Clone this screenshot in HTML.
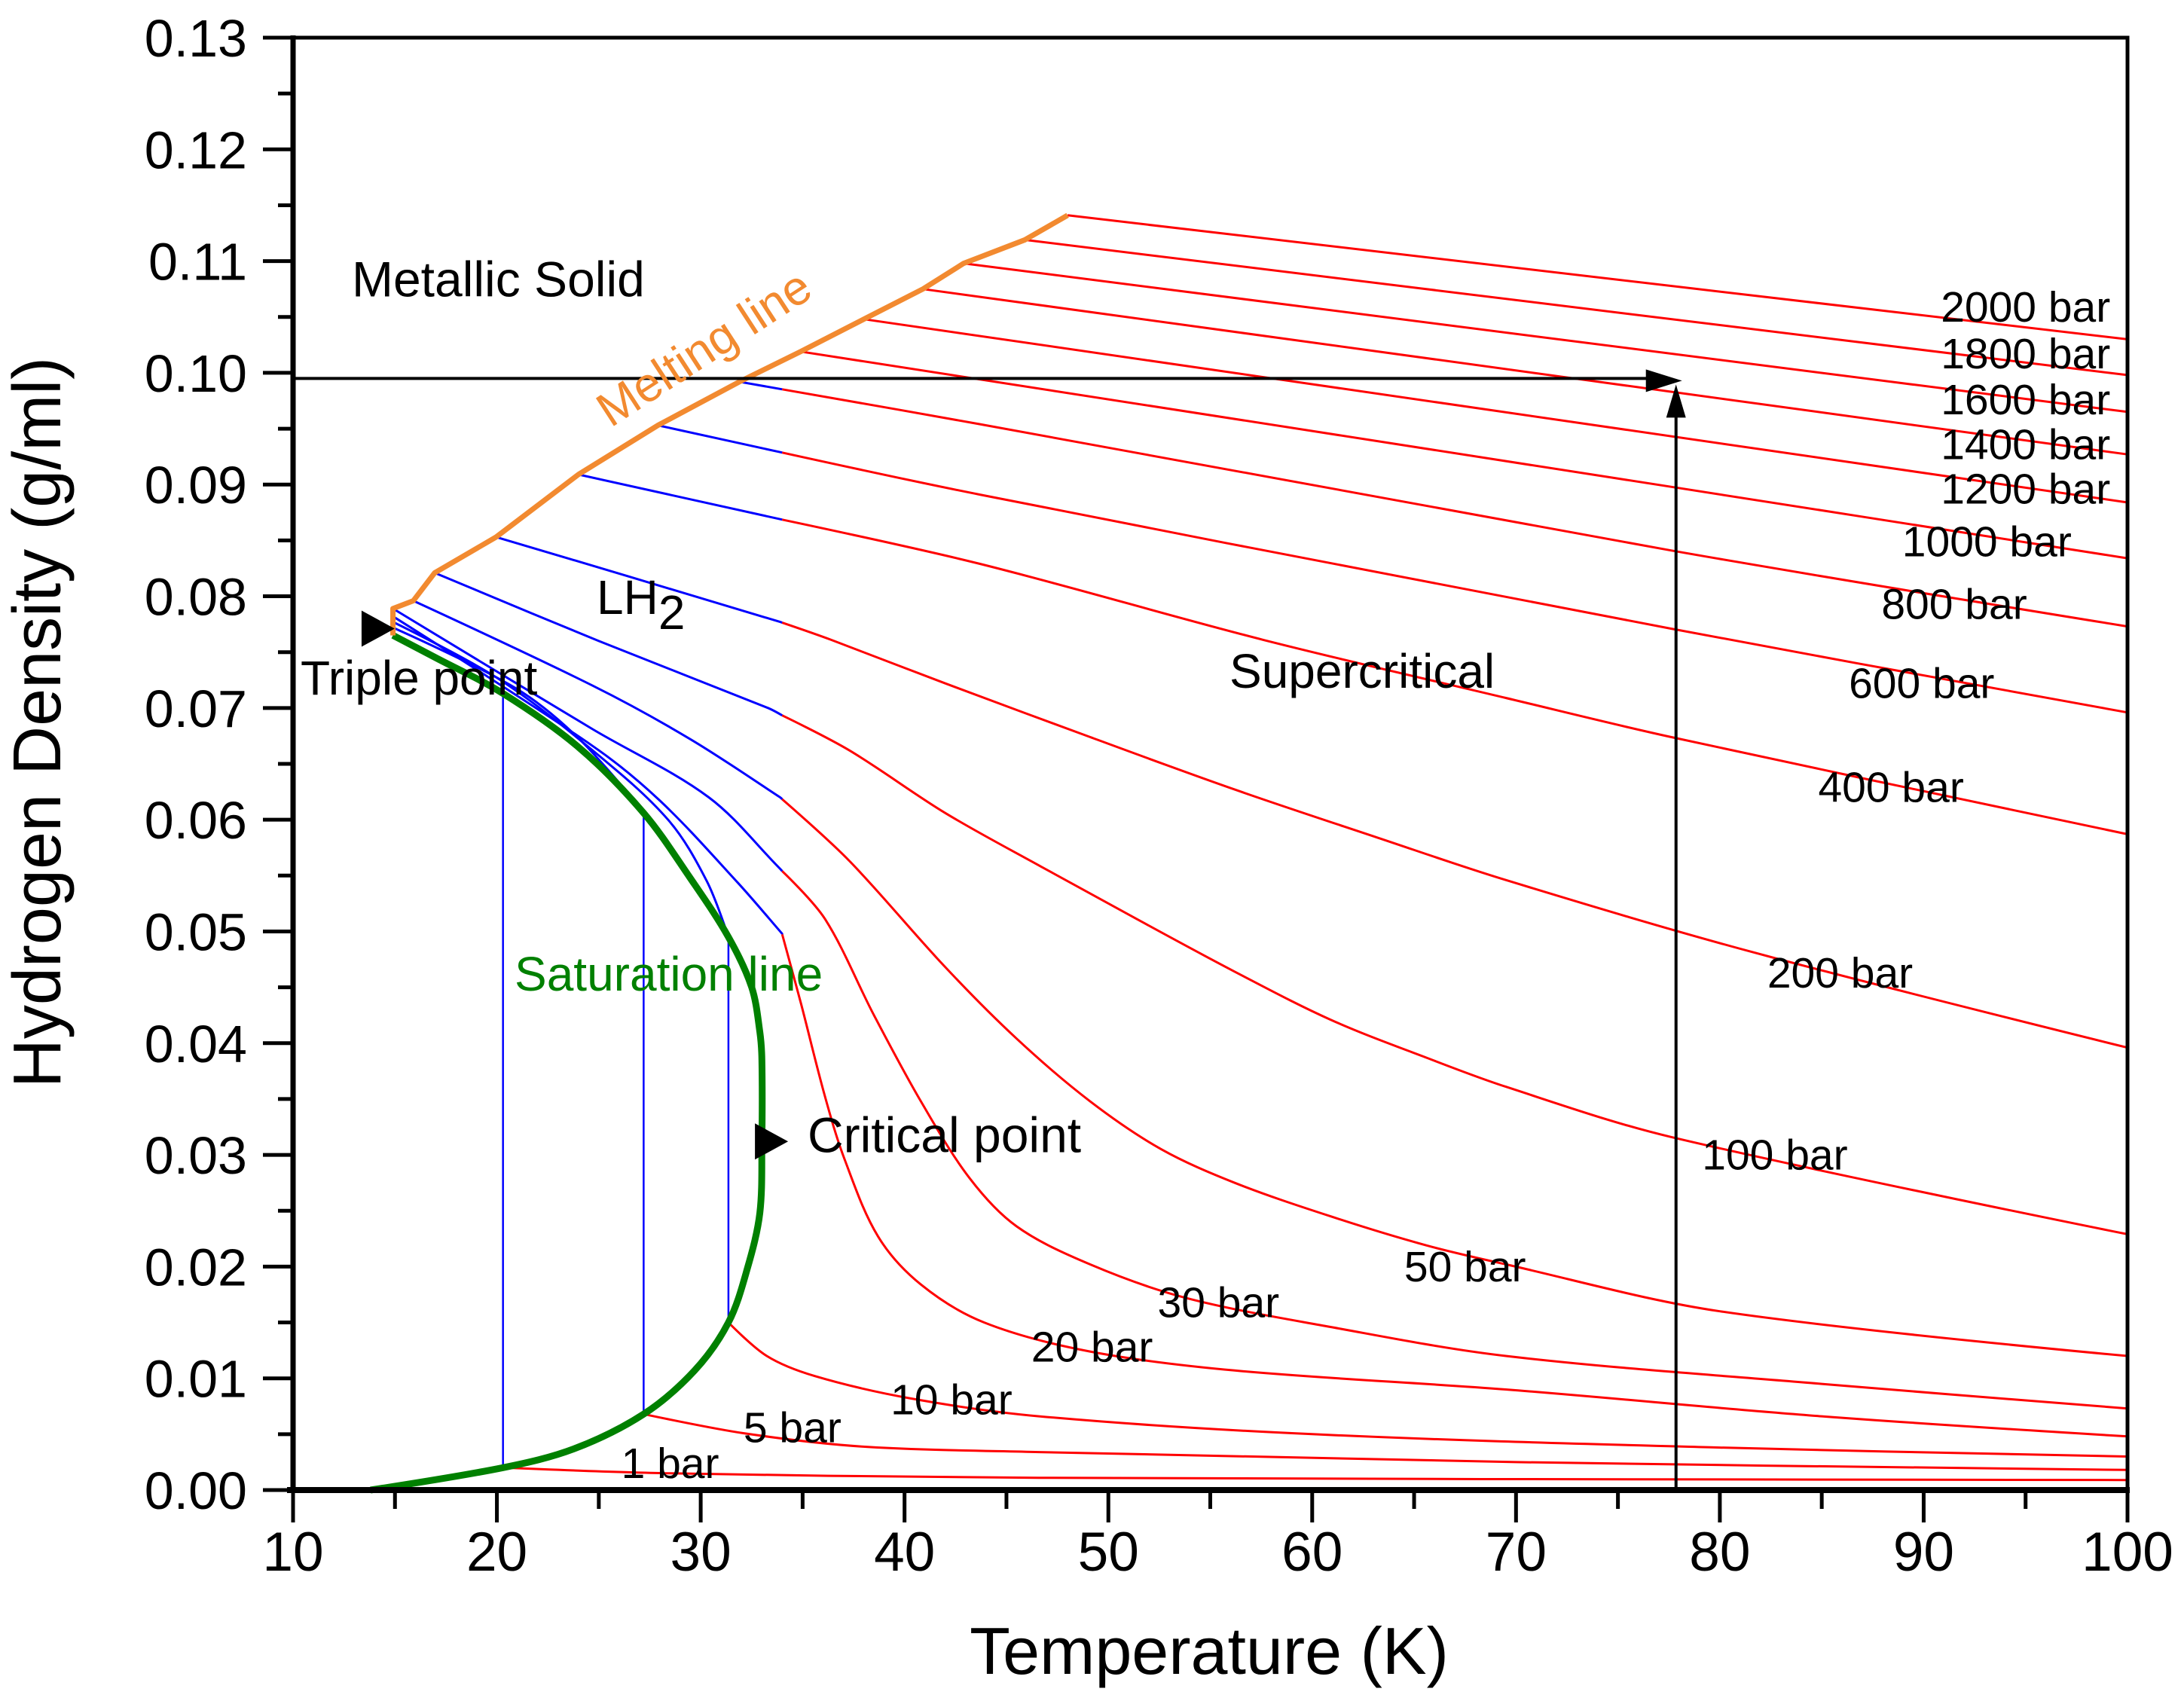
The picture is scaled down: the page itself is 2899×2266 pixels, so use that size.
<!DOCTYPE html>
<html><head><meta charset="utf-8">
<style>
html,body{margin:0;padding:0;background:#fff;}
svg{display:block;font-family:"Liberation Sans",Arial,sans-serif;}
</style></head>
<body>
<svg id="chart" width="2899" height="2266" viewBox="0 0 2899 2266" xmlns="http://www.w3.org/2000/svg">
<rect x="0" y="0" width="2899" height="2266" fill="#fff"/>
<g id="plot"></g>
<g id="axes"></g>
<g id="labels"></g>
</svg>
<script>
// ---- data ----
const xTicks = [10,20,30,40,50,60,70,80,90,100];
const yTicks = [0,0.01,0.02,0.03,0.04,0.05,0.06,0.07,0.08,0.09,0.10,0.11,0.12,0.13];
const yTickLabels = ["0.00","0.01","0.02","0.03","0.04","0.05","0.06","0.07","0.08","0.09","0.10","0.11","0.12","0.13"];

const saturationT   = [13.8,20.3,23.8,27.2,29.7,31.36,32.3,32.9,33.0,33.0,32.9,32.5,31.36,29.44,27.2,24.0,20.3,17.0,14.9];
const saturationRho = [0.0,0.0020,0.0037,0.0068,0.0107,0.0150,0.0199,0.0248,0.0310,0.0385,0.0410,0.0450,0.0495,0.0549,0.0606,0.0665,0.0713,0.0745,0.0765];

const meltingT   = [14.9,14.9,15.9,16.95,19.96,24.0,27.9,31.9,34.9,38.0,40.9,42.9,45.9,48.0];
const meltingRho = [0.0765,0.0789,0.0796,0.0821,0.0853,0.0909,0.0953,0.0992,0.1019,0.1048,0.1075,0.1098,0.1119,0.1141];

const pressures = ["2000","1800","1600","1400","1200","1000","800","600","400","200","100","50","30","20"];
const isoT = {
  "2000":[48.0,100],
  "1800":[45.9,100],
  "1600":[42.9,100],
  "1400":[40.9,100],
  "1200":[38.0,100],
  "1000":[34.9,77.6,100],
  "800":[31.9,43.7,77.6,100],
  "600":[27.9,33.9,43.7,77.6,100],
  "400":[24.0,33.9,43.7,57.6,69.5,77.6,100],
  "200":[19.96,26.6,33.9,36.4,42.0,49.1,56.2,63.2,69.5,81.7,100],
  "100":[16.95,25.0,33.3,37.3,42.0,46.7,51.4,56.2,60.9,65.6,69.5,77.6,100],
  "50":[15.9,24.7,29.5,33.9,37.3,42.0,45.5,49.1,52.6,56.2,60.9,65.6,69.5,80,100],
  "30":[14.9,24.7,30.4,33.9,36.1,38.5,40.8,43.2,45.5,49.1,53.8,60.9,69.5,85,100],
  "20":[14.9,24.7,28.0,31.8,33.99,34.94,36.1,37.06,38.7,40.8,43.9,49.1,56.2,69.5,85,100]
};
const isoRho = {
  "2000":[0.1141,0.1030],
  "1800":[0.1119,0.0998],
  "1600":[0.1098,0.0965],
  "1400":[0.1075,0.0927],
  "1200":[0.1048,0.0884],
  "1000":[0.1019,0.0898,0.0834],
  "800":[0.0992,0.0954,0.0841,0.0773],
  "600":[0.0953,0.0929,0.0891,0.0771,0.0696],
  "400":[0.0909,0.0869,0.0829,0.0761,0.0709,0.0674,0.0587],
  "200":[0.0853,0.0817,0.0777,0.0761,0.0722,0.0674,0.0627,0.0584,0.0546,0.0481,0.0396],
  "100":[0.0821,0.0760,0.0700,0.0662,0.0606,0.0558,0.0511,0.0464,0.0421,0.0387,0.0361,0.0316,0.0229],
  "50":[0.0796,0.0720,0.0672,0.0620,0.0563,0.0468,0.0404,0.0348,0.0305,0.0275,0.0245,0.0219,0.0202,0.0160,0.0120],
  "30":[0.0789,0.0681,0.0620,0.0556,0.0511,0.0425,0.0348,0.0279,0.0236,0.0202,0.0172,0.0146,0.0120,0.0095,0.0073],
  "20":[0.0782,0.0666,0.0617,0.0544,0.0498,0.0434,0.0352,0.0296,0.0227,0.0184,0.0150,0.0124,0.0107,0.0090,0.0066,0.0048]
};
// low pressures: liquid branch, boiling temperature, vapour branch
const lowPressures = ["10","5","1"];
const liqT   = {"10":[14.9,20.0,24.7,28.4,30.3,31.36], "5":[14.9,20.9,24.0,27.2], "1":[14.9,17.0,20.3]};
const liqRho = {"10":[0.0777,0.0727,0.0662,0.0600,0.0545,0.0495], "5":[0.0772,0.0718,0.0673,0.0607], "1":[0.0767,0.0746,0.0714]};
const vapT   = {"10":[31.36,33.24,35.6,40.3,46.6,60,80,100], "5":[27.2,32.06,37.9,46.6,70,100], "1":[20.3,28.5,46.6,100]};
const vapRho = {"10":[0.0150,0.0120,0.0102,0.0082,0.0066,0.0050,0.0038,0.0030], "5":[0.0068,0.0051,0.0039,0.0034,0.0025,0.0018], "1":[0.0020,0.0015,0.0011,0.0009]};

const arrowT = 77.85;
const arrowRho = 0.0995;
const triplePoint = [14.1, 0.0771];
const criticalPoint = [33.4, 0.0312];
const blueLimitT = 34;

const isoLabels = ["2000 bar","1800 bar","1600 bar","1400 bar","1200 bar","1000 bar","800 bar","600 bar","400 bar","200 bar","100 bar","50 bar","30 bar","20 bar","10 bar","5 bar","1 bar"];
const isoLabelT = [95.0,95.0,95.0,95.0,95.0,93.1,91.5,89.9,88.4,85.9,82.7,67.5,55.4,49.2,42.3,34.5,28.5];
const isoLabelRho = [0.1056,0.1014,0.0973,0.0933,0.0893,0.0846,0.0790,0.0719,0.0626,0.0460,0.0297,0.0197,0.0165,0.0125,0.0078,0.0053,0.0021];

// ---- axes ----
const X0=389, X1=2824, Y0=1978, Y1=50;
function xs(t){return X0+(t-10)/90*(X1-X0);}
function ys(r){return Y0-r/0.13*(Y0-Y1);}
const NS="http://www.w3.org/2000/svg";
function mk(tag,attrs,parent){const e=document.createElementNS(NS,tag);for(const k in attrs)e.setAttribute(k,attrs[k]);parent.appendChild(e);return e;}
function dist(a,b){return Math.hypot(a[0]-b[0],a[1]-b[1])||1e-6;}
function smoothPath(pts){
  let d="M"+pts[0][0].toFixed(1)+","+pts[0][1].toFixed(1);
  if(pts.length<3){return d+pts.slice(1).map(p=>" L"+p[0].toFixed(1)+","+p[1].toFixed(1)).join("");}
  for(let i=0;i<pts.length-1;i++){
    const p0=pts[i-1]||pts[i],p1=pts[i],p2=pts[i+1],p3=pts[i+2]||pts[i+1];
    const L01=i>0?dist(p0,p1):0,L12=dist(p1,p2),L23=(i+2<pts.length)?dist(p2,p3):0;
    const f1=i>0?L12/(L01+L12)/3:0;
    const f2=(i+2<pts.length)?L12/(L12+L23)/3:0;
    const c1=[p1[0]+(p2[0]-p0[0])*f1,p1[1]+(p2[1]-p0[1])*f1];
    const c2=[p2[0]-(p3[0]-p1[0])*f2,p2[1]-(p3[1]-p1[1])*f2];
    d+=" C"+c1[0].toFixed(1)+","+c1[1].toFixed(1)+" "+c2[0].toFixed(1)+","+c2[1].toFixed(1)+" "+p2[0].toFixed(1)+","+p2[1].toFixed(1);
  }
  return d;
}
function toPts(T,R){return T.map((t,i)=>[xs(t),ys(R[i])]);}
const plot=document.getElementById('plot');
const axes=document.getElementById('axes');
const labels=document.getElementById('labels');

// isobars (split blue/red at blueLimitT)
pressures.forEach(p=>{
  const T=isoT[p],R=isoRho[p];
  const blue=[],red=[];
  for(let i=0;i<T.length;i++){
    if(T[i]<=blueLimitT) blue.push([T[i],R[i]]);
    if(T[i]>=blueLimitT) red.push([T[i],R[i]]);
    if(i<T.length-1 && T[i]<blueLimitT && T[i+1]>blueLimitT){
      const f=(blueLimitT-T[i])/(T[i+1]-T[i]);
      const r=R[i]+f*(R[i+1]-R[i]);
      blue.push([blueLimitT,r]);red.push([blueLimitT,r]);
    }
  }
  if(blue.length>1){
    const e=mk('path',{d:smoothPath(blue.map(q=>[xs(q[0]),ys(q[1])])),fill:'none',stroke:'#0000ff','stroke-width':3},plot);
    
    
  }
  if(red.length>1){
    const e=mk('path',{d:smoothPath(red.map(q=>[xs(q[0]),ys(q[1])])),fill:'none',stroke:'#ff0000','stroke-width':3},plot);
    
    
  }
});
lowPressures.forEach(p=>{
  const a=mk('path',{d:smoothPath(toPts(liqT[p],liqRho[p])),fill:'none',stroke:'#0000ff','stroke-width':3},plot);
  
  
  const tb=liqT[p][liqT[p].length-1];
  const v=mk('line',{x1:xs(tb),x2:xs(tb),y1:ys(liqRho[p][liqRho[p].length-1]),y2:ys(vapRho[p][0]),stroke:'#0000ff','stroke-width':2.5},plot);
  
  
  const b=mk('path',{d:smoothPath(toPts(vapT[p],vapRho[p])),fill:'none',stroke:'#ff0000','stroke-width':3},plot);
  
  
});
// saturation line
const sat=mk('path',{d:smoothPath(toPts(saturationT,saturationRho)),fill:'none',stroke:'#008000','stroke-width':9,'stroke-linejoin':'round'},plot);


// melting line
const melt=mk('polyline',{points:toPts(meltingT,meltingRho).map(p=>p.join(',')).join(' '),fill:'none',stroke:'#f28a30','stroke-width':7,'stroke-linejoin':'round'},plot);


// arrows
const ah=mk('line',{x1:X0,y1:ys(arrowRho),x2:xs(arrowT)-30,y2:ys(arrowRho),stroke:'#000','stroke-width':4},plot);


const aht=mk('polygon',{points:`${xs(arrowT)+8},${ys(arrowRho)+3} ${xs(arrowT)-40},${ys(arrowRho)-12} ${xs(arrowT)-40},${ys(arrowRho)+18}`,fill:'#000'},plot);


const av=mk('line',{x1:xs(arrowT),y1:Y0,x2:xs(arrowT),y2:ys(arrowRho)+30,stroke:'#000','stroke-width':4},plot);


const avt=mk('polygon',{points:`${xs(arrowT)},${ys(arrowRho)+8} ${xs(arrowT)-13},${ys(arrowRho)+52} ${xs(arrowT)+13},${ys(arrowRho)+52}`,fill:'#000'},plot);


// markers
[[triplePoint,'triple-point-marker'],[criticalPoint,'critical-point-marker']].forEach(m=>{
  const x=xs(m[0][0]),y=ys(m[0][1]);
  const e=mk('polygon',{points:`${x-20},${y-24} ${x+24},${y} ${x-20},${y+24}`,fill:'#000'},plot);
  
  
});

// frame & ticks
const fr=mk('path',{d:`M${X0},${Y1} L${X1},${Y1} L${X1},${Y0}`,fill:'none',stroke:'#000','stroke-width':5},axes);


const xa=mk('line',{x1:X0-8,x2:X1+3,y1:Y0,y2:Y0,stroke:'#000','stroke-width':8},axes);


const ya=mk('line',{x1:X0,x2:X0,y1:Y1-3,y2:Y0+4,stroke:'#000','stroke-width':7},axes);


for(let t=10;t<=100;t+=5){
  const major=(t%10===0);
  const e=mk('line',{x1:xs(t),x2:xs(t),y1:Y0,y2:Y0+(major?43:25),stroke:'#000','stroke-width':5},axes);
  
  
}
xTicks.forEach(t=>{
  const e=mk('text',{x:xs(t),y:2085,'font-size':73,'text-anchor':'middle',fill:'#000'},axes);
  e.textContent=String(t);
  
  
});
for(let i=0;i<=26;i++){
  const r=i*0.005, major=(i%2===0);
  const e=mk('line',{x1:X0,x2:X0-(major?40:20),y1:ys(r),y2:ys(r),stroke:'#000','stroke-width':5},axes);
  
  
}
yTicks.forEach((r,i)=>{
  const e=mk('text',{x:328,y:ys(r)+25,'font-size':70,'text-anchor':'end',fill:'#000'},axes);
  e.textContent=yTickLabels[i];
  
  
});
const xt=mk('text',{x:1605,y:2222,'font-size':88,'text-anchor':'middle',fill:'#000'},axes);
xt.textContent='Temperature (K)';


const yt=mk('text',{x:0,y:0,'font-size':90,'text-anchor':'middle',fill:'#000',transform:'translate(80,959) rotate(-90)'},axes);
yt.textContent='Hydrogen Density (g/ml)';



// isobar labels
isoLabels.forEach((s,i)=>{
  const e=mk('text',{x:xs(isoLabelT[i]),y:ys(isoLabelRho[i]),'font-size':57,'text-anchor':'middle','dominant-baseline':'middle',fill:'#000'},labels);
  e.textContent=s;
  
  
});
function ann(txt,x,y,size,color,name,extra){
  const e=mk('text',Object.assign({x:x,y:y,'font-size':size,fill:color,'dominant-baseline':'middle'},extra||{}),labels);
  e.textContent=txt;
  
  
  return e;
}
ann('Metallic Solid',467,376,66,'#000','metallic-solid-label');
ann('Melting line',0,0,64,'#f28a30','melting-line-label',{transform:'translate(937,466) rotate(-33)','text-anchor':'middle'});
const lh=ann('LH',792,798,64,'#000','lh2-label');
const sub=mk('tspan',{dy:20,'font-size':64},lh);sub.textContent='2';
ann('Triple point',399,905,64,'#000','triple-point-label');
ann('Supercritical',1632,896,64,'#000','supercritical-label');
ann('Saturation line',683,1298,64,'#008000','saturation-line-label');
ann('Critical point',1072,1512,66,'#000','critical-point-label');
</script>
</body></html>
